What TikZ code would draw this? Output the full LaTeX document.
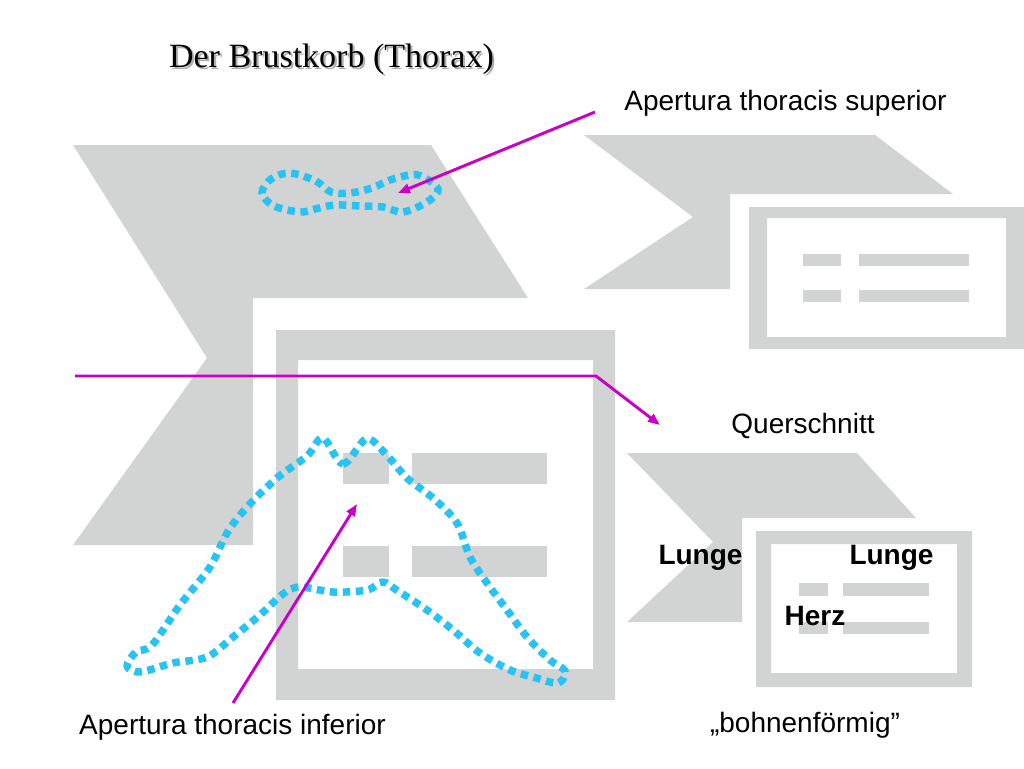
\documentclass[tikz,border=0pt]{standalone}
\usepackage{fontspec}
\setmainfont{Liberation Serif}
\newfontfamily\labelfont{Liberation Sans}
\usetikzlibrary{arrows.meta}
\definecolor{shapegray}{RGB}{210,211,211}
\definecolor{dotblue}{RGB}{40,195,245}
\definecolor{arrowmag}{RGB}{200,0,200}
\definecolor{shadowgray}{RGB}{175,175,175}
\tikzset{
  shapefill/.style={fill=shapegray, draw=none},
  framefill/.style={fill=shapegray, draw=none, even odd rule},
  dotline/.style={draw=dotblue, line width=5.6pt, dash pattern=on 5.6pt off 4.2pt, line join=round},
  magline/.style={draw=arrowmag, line width=2.2pt},
  magarrow/.style={magline, -{Triangle[length=9pt,width=7pt]}},
  lbl/.style={font=\labelfont\fontsize{21}{25}\selectfont, inner sep=0pt, anchor=base},
  lblbold/.style={font=\labelfont\bfseries\fontsize{21}{25}\selectfont, inner sep=0pt, anchor=base},
  titlestyle/.style={font=\fontsize{25.5}{30}\selectfont, inner sep=0pt, anchor=base}
}
\begin{document}
\begin{tikzpicture}[x=0.75pt,y=-0.75pt]
\useasboundingbox[fill=white] (0,0) rectangle (1024,768);

% ---- left large shape ----
\fill[shapefill] (73,145) -- (431,145) -- (528,298) -- (253,298) -- (253,545) -- (73,545) -- (207,358) -- cycle;
\fill[framefill] (276,330) rectangle (615,700) (298,360) rectangle (593,669);
\fill[shapefill] (343,453) rectangle (389,484);
\fill[shapefill] (412,453) rectangle (547,484);
\fill[shapefill] (343,546) rectangle (389,577);
\fill[shapefill] (412,546) rectangle (547,577);

% ---- right top shape ----
\fill[shapefill] (584,135) -- (875,135) -- (953,194) -- (730,194) -- (730,289) -- (584,289) -- (693,217) -- cycle;
\fill[framefill] (749,207) rectangle (1024,349) (767,218) rectangle (1006,337);
\fill[shapefill] (803,254) rectangle (841,266);
\fill[shapefill] (859,254) rectangle (969,266);
\fill[shapefill] (803,290) rectangle (841,302);
\fill[shapefill] (859,290) rectangle (969,302);

% ---- right bottom shape ----
\fill[shapefill] (627,453) -- (857,453) -- (916,518) -- (742,518) -- (742,622) -- (627,622) -- (713,542) -- cycle;
\fill[framefill] (756,531) rectangle (972,687) (771,544) rectangle (957,673);
\fill[shapefill] (799,583) rectangle (828,596);
\fill[shapefill] (843,583) rectangle (929,596);
\fill[shapefill] (799,622) rectangle (828,634);
\fill[shapefill] (843,622) rectangle (929,634);

% ---- dotted outlines ----
\draw[dotline] plot[smooth cycle, tension=0.55] coordinates {
  (290,173) (316,181) (331,192) (350,193) (372,188) (393,179) (418,175)
  (438,189) (427,202) (403,212) (383,207) (360,206) (335,205) (315,209)
  (300,212) (274,206) (262,193) (271,179)};

\draw[dotline] plot[smooth cycle, tension=0.55] coordinates {
  (323,438) (343,464) (366,439) (384,452) (407,478) (433,498) (457,523)
  (470,557) (487,583) (507,610) (527,637) (550,660) (565,671) (558,683)
  (533,677) (510,670) (480,653) (453,630) (427,610) (398,591) (383,582)
  (367,590) (333,592) (300,587) (283,594) (260,615) (233,637) (207,657)
  (173,663) (140,672) (127,666) (136,652) (152,645) (180,605) (210,567)
  (227,533) (247,507) (277,478) (307,456)};

% ---- labels ----
\node[titlestyle, text=shadowgray] (titleshadow) at (333.5,69.5) {Der Brustkorb (Thorax)};
\node[titlestyle] (title) at (331.5,67) {Der Brustkorb (Thorax)};
\node[lbl] (sup) at (785.5,110) {Apertura thoracis superior};
\node[lbl] (quer) at (803,433) {Querschnitt};
\node[lblbold] (lungeL) at (700.5,564) {Lunge};
\node[lblbold] (lungeR) at (891.5,564) {Lunge};
\node[lblbold] (herz) at (815,625) {Herz};
\node[lbl] (inf) at (232.5,734) {Apertura thoracis inferior};
\node[lbl] (bohne) at (805,732) {„bohnenförmig”};

% ---- magenta connectors ----
\coordinate (supStart) at (595,112);
\coordinate (supTip) at (398,193);
\coordinate (cutStart) at (75,376);
\coordinate (cutBend) at (596,376);
\coordinate (cutTip) at (660,425);
\coordinate (infStart) at (233,703);
\coordinate (infTip) at (357,504);
\draw[magarrow] (supStart) -- (supTip);
\draw[magarrow] (cutStart) -- (cutBend) -- (cutTip);
\draw[magarrow] (infStart) -- (infTip);
\end{tikzpicture}
\end{document}
